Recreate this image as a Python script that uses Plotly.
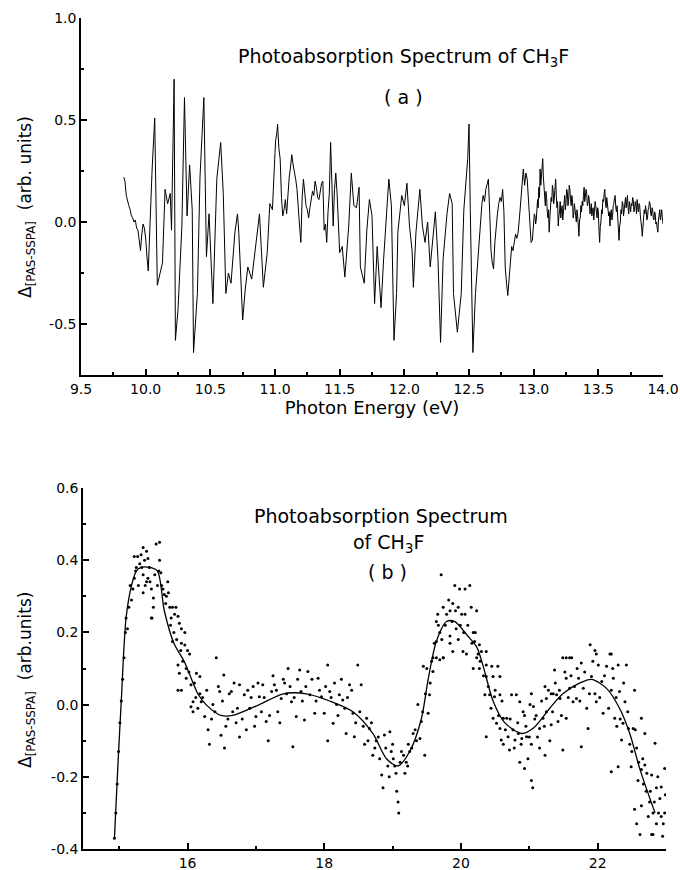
import plotly.graph_objects as go

# ---------------- Panel (a): photoabsorption spectrum 9.8 - 13 eV (main readings) ----------------
energy_a = [
    9.83, 9.85, 9.87, 9.89, 9.91, 9.94, 9.96, 9.99, 10.02, 10.05, 10.07, 10.075, 10.09, 10.13, 10.15,
    10.17, 10.19, 10.20, 10.21, 10.22, 10.23, 10.25, 10.28, 10.29, 10.30, 10.32, 10.34, 10.36, 10.37,
    10.40, 10.42, 10.45, 10.47, 10.49, 10.51, 10.52, 10.55, 10.58, 10.60, 10.62, 10.64, 10.66, 10.69,
    10.71, 10.72, 10.75, 10.77, 10.79, 10.82, 10.85, 10.88, 10.91, 10.94, 10.96, 10.98, 11.00, 11.02,
    11.04, 11.06, 11.08, 11.09, 11.11, 11.13, 11.16, 11.17, 11.20, 11.22, 11.24, 11.26, 11.28, 11.31,
    11.34, 11.37, 11.38, 11.40, 11.42, 11.43, 11.45, 11.47, 11.48, 11.50, 11.52, 11.54, 11.57, 11.59,
    11.61, 11.63, 11.65, 11.66, 11.69, 11.71, 11.73, 11.75, 11.77, 11.79, 11.82, 11.84, 11.88, 11.90,
    11.92, 11.94, 11.95, 11.98, 12.00, 12.02, 12.04, 12.06, 12.07, 12.09, 12.12, 12.14, 12.16, 12.18,
    12.20, 12.22, 12.24, 12.26, 12.28, 12.30, 12.33, 12.35, 12.37, 12.38, 12.41, 12.44, 12.46, 12.49,
    12.50, 12.51, 12.53, 12.55, 12.57, 12.60, 12.63, 12.65, 12.67, 12.69, 12.71, 12.73, 12.76, 12.78,
    12.80, 12.82, 12.85, 12.88, 12.91, 12.92, 12.95, 12.98, 12.99,
]
delta_a = [
    0.22, 0.13, 0.08, 0.03, 0.00, -0.04, -0.14, -0.03, -0.24, 0.26, 0.51, 0.30, -0.31, -0.20, 0.16,
    0.09, 0.14, -0.04, 0.35, 0.70, -0.58, -0.43, -0.02, 0.39, 0.61, 0.03, 0.28, 0.06, -0.64,
    -0.35, 0.22, 0.61, -0.17, 0.04, -0.28, -0.40, 0.21, 0.39, 0.14, -0.35, -0.25, -0.30, -0.05,
    0.04, -0.05, -0.48, -0.33, -0.22, -0.28, -0.12, 0.04, -0.32, -0.15, 0.09, 0.06, 0.34, 0.48,
    0.31, 0.03, 0.11, 0.04, 0.22, 0.33, 0.21, 0.16, -0.10, 0.21, 0.08, 0.02, 0.11, 0.20,
    0.11, 0.20, -0.04, -0.10, 0.14, 0.39, -0.02, 0.24, 0.14, -0.15, -0.12, -0.27, -0.02, 0.24,
    0.08, 0.07, 0.17, -0.22, -0.30, -0.04, 0.11, 0.03, -0.40, -0.12, -0.42, -0.18, 0.21, 0.08,
    -0.58, -0.35, -0.05, 0.13, 0.08, 0.19, -0.02, -0.14, -0.32, -0.05, 0.16, -0.02, -0.10, 0.00,
    -0.22, -0.10, 0.05, -0.18, -0.59, -0.18, 0.04, 0.14, 0.09, -0.35, -0.54, -0.35, 0.06, 0.31,
    0.48, 0.06, -0.64, -0.35, -0.18, 0.09, 0.16, 0.21, -0.14, -0.23, -0.02, 0.09, 0.16, -0.22,
    -0.36, -0.18, -0.09, -0.05, 0.14, 0.26, 0.21, -0.10, -0.09,
]

# extra fine-structure readings (noise wiggles) in panel (a)
energy_a_fine = [
    9.84, 9.86, 9.88, 9.90, 9.92, 9.93, 9.95, 9.97, 9.98, 10.00, 10.01,
    11.005, 11.015, 11.03, 11.05, 11.07, 11.10, 11.12, 11.14, 11.15, 11.18, 11.19, 11.21, 11.23,
    11.25, 11.27, 11.29, 11.30, 11.32, 11.33, 11.35, 11.36, 11.39, 11.41, 11.44, 11.46, 11.49,
    12.58, 12.59, 12.61, 12.62, 12.64, 12.66, 12.68, 12.70, 12.72, 12.74, 12.75, 12.77, 12.79,
    12.81, 12.83, 12.84, 12.86, 12.87, 12.89, 12.90, 12.93, 12.94, 12.96, 12.97,
]
delta_a_fine = [
    0.20, 0.10, 0.06, 0.02, 0.01, -0.03, -0.08, -0.06, -0.01, -0.08, -0.17,
    0.40, 0.44, 0.36, 0.12, 0.06, 0.15, 0.27, 0.28, 0.25, 0.05, -0.02, 0.12, 0.14,
    0.06, 0.07, 0.15, 0.13, 0.17, 0.12, 0.15, 0.19, -0.01, 0.05, 0.18, 0.16, 0.02,
    -0.10, 0.02, 0.13, 0.10, 0.18, 0.05, -0.20, -0.10, 0.04, 0.12, 0.10, 0.05, -0.30,
    -0.28, -0.12, -0.14, -0.06, -0.08, 0.02, 0.10, 0.18, 0.24, 0.10, -0.02,
]

# noisy tail 13 - 14 eV
energy_a_tail = [
    13.000, 13.005, 13.010, 13.015, 13.020, 13.025, 13.030, 13.035, 13.040, 13.045, 13.050, 13.055,
    13.060, 13.065, 13.070, 13.075, 13.080, 13.085, 13.090, 13.095, 13.100, 13.105, 13.110, 13.115,
    13.120, 13.125, 13.130, 13.135, 13.140, 13.145, 13.150, 13.155, 13.160, 13.165, 13.170, 13.175,
    13.180, 13.185, 13.190, 13.195, 13.200, 13.205, 13.210, 13.215, 13.220, 13.225, 13.230, 13.235,
    13.240, 13.245, 13.250, 13.255, 13.260, 13.265, 13.270, 13.275, 13.280, 13.285, 13.290, 13.295,
    13.300, 13.305, 13.310, 13.315, 13.320, 13.325, 13.330, 13.335, 13.340, 13.345, 13.350, 13.355,
    13.360, 13.365, 13.370, 13.375, 13.380, 13.385, 13.390, 13.395, 13.400, 13.405, 13.410, 13.415,
    13.420, 13.425, 13.430, 13.435, 13.440, 13.445, 13.450, 13.455, 13.460, 13.465, 13.470, 13.475,
    13.480, 13.485, 13.490, 13.495, 13.500, 13.505, 13.510, 13.515, 13.520, 13.525, 13.530, 13.535,
    13.540, 13.545, 13.550, 13.555, 13.560, 13.565, 13.570, 13.575, 13.580, 13.585, 13.590, 13.595,
    13.600, 13.605, 13.610, 13.615, 13.620, 13.625, 13.630, 13.635, 13.640, 13.645, 13.650, 13.655,
    13.660, 13.665, 13.670, 13.675, 13.680, 13.685, 13.690, 13.695, 13.700, 13.705, 13.710, 13.715,
    13.720, 13.725, 13.730, 13.735, 13.740, 13.745, 13.750, 13.755, 13.760, 13.765, 13.770, 13.775,
    13.780, 13.785, 13.790, 13.795, 13.800, 13.805, 13.810, 13.815, 13.820, 13.825, 13.830, 13.835,
    13.840, 13.845, 13.850, 13.855, 13.860, 13.865, 13.870, 13.875, 13.880, 13.885, 13.890, 13.895,
    13.900, 13.905, 13.910, 13.915, 13.920, 13.925, 13.930, 13.935, 13.940, 13.945, 13.950, 13.955,
    13.960, 13.965, 13.970, 13.975, 13.980, 13.985, 13.990, 13.995, 14.000,
]
delta_a_tail = [
    -0.02, 0.04, 0.03, -0.01, 0.01, 0.08, 0.11, 0.07, 0.17, 0.12, 0.26, 0.18,
    0.22, 0.28, 0.31, 0.22, 0.18, 0.12, 0.08, 0.15, 0.12, 0.05, 0.02, 0.06,
    -0.05, 0.02, 0.06, 0.12, 0.10, 0.18, 0.16, 0.09, 0.12, 0.19, 0.21, 0.13,
    0.07, 0.10, -0.02, 0.03, 0.05, 0.10, 0.02, 0.06, 0.08, 0.01, 0.04, 0.10,
    0.13, 0.06, 0.09, 0.16, 0.15, 0.08, 0.10, 0.18, 0.16, 0.11, 0.08, 0.13,
    0.11, 0.02, 0.04, 0.09, 0.07, 0.03, 0.00, 0.06, 0.03, -0.02, -0.07, 0.01,
    0.02, 0.08, 0.05, 0.10, 0.08, 0.13, 0.17, 0.10, 0.12, 0.16, 0.14, 0.08,
    0.09, 0.13, 0.11, 0.04, 0.05, 0.09, 0.03, 0.06, 0.07, 0.01, 0.04, 0.10,
    0.08, 0.03, 0.02, 0.07, 0.05, -0.04, -0.10, -0.02, 0.00, 0.06, 0.04, 0.11,
    0.10, 0.14, 0.16, 0.10, 0.07, 0.12, 0.09, 0.04, 0.03, 0.05, -0.02, 0.04,
    0.06, 0.01, 0.03, 0.08, 0.09, 0.12, 0.13, 0.07, 0.05, 0.08, 0.02, -0.03,
    -0.09, -0.02, 0.00, 0.06, 0.04, 0.10, 0.09, 0.03, 0.06, 0.10, 0.12, 0.07,
    0.11, 0.13, 0.07, 0.04, 0.10, 0.08, 0.05, 0.09, 0.08, 0.12, 0.11, 0.05,
    0.06, 0.10, 0.09, 0.04, 0.11, 0.07, 0.05, 0.09, 0.08, 0.03, 0.01, -0.03,
    -0.07, 0.00, 0.02, 0.06, 0.04, 0.08, 0.06, 0.01, 0.02, 0.06, 0.07, 0.10,
    0.09, 0.04, 0.03, 0.07, 0.06, 0.02, 0.01, 0.05, 0.04, -0.01, 0.00, -0.03,
    -0.05, 0.01, 0.03, 0.06, 0.01, 0.04, 0.06, 0.02, -0.01,
]

# ---------------- Panel (b): 15 - 23 eV, measured points + fitted curve ----------------
energy_b_pts = [
    14.93, 14.95, 14.97, 14.99, 15.01, 15.03, 15.05, 15.07, 15.09, 15.10,
    15.12, 15.18, 15.20, 15.22, 15.25, 15.30, 15.32, 15.35, 15.40, 15.42, 15.42, 15.45, 15.47, 15.50,
    15.48, 15.50, 15.54, 15.59, 15.59, 15.61, 15.64, 15.66, 15.69, 15.71, 15.74, 15.78, 15.83, 15.81,
    15.86, 15.76, 15.88, 15.91, 15.96, 15.78, 15.91, 15.96, 16.00, 16.03, 16.42, 15.22, 15.27, 15.35,
    15.40, 15.47, 15.35,
    15.86, 15.88, 15.91, 15.98, 16.05, 16.08, 16.13, 16.18, 16.18, 16.20, 16.05, 16.08, 16.25, 16.30,
    16.32, 16.37, 16.47, 16.49, 16.53, 16.54, 16.59, 16.64, 16.66, 16.71, 16.76, 16.76, 16.83, 16.86,
    16.91, 16.96, 17.00, 17.05, 17.10, 17.15, 17.18, 17.23, 17.27, 17.32, 17.37, 17.42, 17.47, 17.52,
    17.54, 17.59, 17.64, 17.66, 17.71, 17.76, 17.79, 17.86, 17.91, 17.96, 18.00, 18.05, 18.08, 18.13,
    18.05, 18.18, 15.86,
    18.22, 18.27, 18.37, 18.42, 18.49, 18.54, 18.32, 18.44, 18.59, 18.62, 18.66, 18.71, 18.76, 18.81,
    18.84, 18.86, 18.88, 18.93, 18.96, 18.98, 19.00, 19.03, 19.06, 19.08, 19.09, 19.13, 19.18, 19.20,
    19.23, 19.25, 19.30, 19.35, 19.40, 19.47, 19.37, 19.42, 19.45, 19.50, 19.52, 19.54, 19.57, 19.59,
    19.64, 19.69, 19.74,
    19.71, 19.91, 19.98, 20.06, 20.13, 19.66, 19.74, 19.79, 19.84, 19.88, 19.96, 20.01, 20.06, 20.15,
    20.23, 19.64, 19.69, 19.64, 19.84, 19.93, 19.96, 19.84, 19.88, 20.03, 20.08, 20.18, 20.20, 20.27,
    20.30, 20.37, 20.25, 19.74, 19.59,
    20.18, 20.23, 20.27, 20.37, 20.45, 20.54, 20.37, 20.47, 20.57, 20.35, 20.42, 20.49, 20.57, 20.47,
    20.52, 20.62, 20.67, 20.74, 20.81, 20.37, 20.57, 20.59, 20.62, 20.69, 20.71, 20.76, 20.79, 20.84,
    20.89, 20.91, 20.96, 21.03, 20.86, 20.93, 20.98, 21.03, 21.05, 21.01, 21.06, 21.10, 21.15, 21.15,
    21.20, 21.23, 21.25, 21.30, 21.32, 21.25, 21.35, 21.40, 21.42, 21.45, 21.49, 21.54, 20.86, 20.93,
    21.03, 21.23, 21.32,
    21.54, 21.62, 21.37, 21.54, 21.59, 21.64, 21.69, 21.72, 21.76, 21.79, 21.84, 21.86, 21.76, 21.91,
    21.96, 21.98, 22.01, 22.06, 22.08, 22.13, 22.18, 22.20, 22.23, 22.25, 22.28, 22.30, 22.32, 22.35,
    22.37, 22.40, 22.42, 22.45, 22.47, 22.20, 22.30, 22.54, 22.52, 22.64, 22.69, 22.57, 22.49, 22.59,
    22.64, 22.66, 22.69, 22.79, 22.84, 22.98, 22.93, 22.71, 22.76, 22.86, 22.91, 22.54, 22.64, 22.81,
    22.89, 22.93, 22.98, 22.57, 22.74, 22.86, 22.62, 22.79, 22.81, 22.95,
    21.89, 21.96, 21.98, 22.20, 21.49, 21.59,
    15.14, 15.16, 15.24, 15.28, 15.33, 15.37, 15.38, 15.44, 15.52, 15.56, 15.58,
    15.62, 15.68, 15.72, 15.75, 15.80, 15.84, 15.90, 15.93, 15.98, 16.02, 16.10, 16.12, 16.15, 16.22,
    16.28, 16.35, 16.40, 16.45, 16.51, 16.56, 16.61, 16.68, 16.73, 16.80, 16.88, 16.93, 16.98, 17.03,
    17.08, 17.12, 17.20, 17.25, 17.30, 17.35, 17.40, 17.45, 17.50, 17.56, 17.61, 17.68, 17.73, 17.82,
    17.88, 17.93, 18.02, 18.10, 18.15, 18.20, 18.25, 18.30, 18.34, 18.40, 18.46, 18.52, 18.57, 18.64,
    18.69, 18.74, 18.79, 18.90, 18.95, 19.01, 19.05, 19.11, 19.16, 19.22, 19.28, 19.33, 19.44, 19.48,
    19.55, 19.61, 19.67, 19.72, 19.77, 19.82, 19.87, 19.92, 19.99, 20.04, 20.10, 20.16, 20.21, 20.28,
    20.33, 20.40, 20.44, 20.50, 20.55, 20.60, 20.65, 20.72, 20.78, 20.83, 20.88, 20.95, 21.00, 21.08,
    21.12, 21.18, 21.22, 21.28, 21.34, 21.38, 21.44, 21.47, 21.52, 21.57, 21.61, 21.66, 21.70, 21.74,
    21.81, 21.88, 21.93, 22.03, 22.10, 22.16, 22.22, 22.27, 22.33, 22.38, 22.44, 22.50, 22.55, 22.60,
    22.67, 22.72, 22.77, 22.83, 22.88, 22.96, 22.99,
]
delta_b_pts = [
    -0.37, -0.30, -0.22, -0.13, -0.05, 0.01, 0.07, 0.13, 0.20, 0.24,
    0.21, 0.29, 0.32, 0.35, 0.38, 0.39, 0.415, 0.435, 0.425, 0.405, 0.35, 0.34, 0.32, 0.295,
    0.24, 0.27, 0.445, 0.45, 0.40, 0.365, 0.32, 0.305, 0.30, 0.34, 0.27, 0.27, 0.27, 0.25,
    0.245, 0.24, 0.225, 0.21, 0.20, 0.175, 0.17, 0.165, 0.15, 0.14, 0.13, 0.41, 0.41, 0.36,
    0.34, 0.24, 0.31,
    0.11, 0.087, 0.04, 0.073, 0.055, 0.008, 0.087, 0.078, 0.03, 0.008, -0.006, -0.02, -0.033, -0.07,
    -0.11, 0.00, 0.036, -0.085, 0.082, -0.12, -0.04, 0.036, -0.02, -0.05, 0.055, -0.09, 0.027, -0.07,
    -0.01, 0.05, -0.033, 0.022, 0.055, -0.047, -0.10, 0.036, 0.055, -0.02, 0.017, 0.06, 0.10, 0.008,
    -0.117, -0.033, 0.096, 0.036, -0.043, 0.092, 0.027, -0.024, 0.073, 0.022, -0.024, 0.11, 0.036, -0.052,
    -0.10, 0.00, 0.04,
    0.027, 0.013, 0.055, -0.024, 0.11, 0.055, -0.08, -0.089, -0.11, -0.038, -0.066, -0.14, -0.10, -0.15,
    -0.195, -0.23, -0.084, -0.17, -0.075, -0.13, -0.11, -0.17, -0.24, -0.27, -0.30, -0.13, -0.19, -0.16,
    -0.11, -0.13, -0.08, -0.10, -0.094, -0.14, 0.00, -0.047, 0.106, 0.10, -0.024, 0.027, 0.12, 0.092,
    0.13, 0.124, 0.13,
    0.36, 0.33, 0.32, 0.32, 0.33, 0.25, 0.27, 0.25, 0.26, 0.28, 0.27, 0.25, 0.25, 0.27,
    0.26, 0.23, 0.20, 0.175, 0.19, 0.21, 0.18, 0.17, 0.147, 0.147, 0.14, 0.20, 0.175, 0.166,
    0.147, 0.147, 0.14, 0.13, 0.13,
    0.10, 0.13, 0.10, 0.11, 0.106, 0.106, 0.078, 0.078, 0.078, 0.027, 0.027, 0.022, 0.027, -0.038,
    -0.052, -0.038, -0.038, 0.027, 0.027, -0.089, -0.066, -0.098, -0.11, -0.089, -0.126, -0.07, -0.098, -0.08,
    -0.094, -0.02, -0.089, -0.11, -0.16, -0.177, -0.15, -0.21, -0.23, 0.00, -0.005, -0.03, -0.066, -0.12,
    -0.038, -0.14, -0.02, -0.10, -0.056, 0.017, 0.03, 0.027, -0.047, 0.017, -0.126, -0.038, 0.008, -0.03,
    0.03, 0.05, 0.03,
    0.13, 0.13, 0.096, 0.073, 0.045, 0.008, 0.017, 0.073, 0.115, 0.045, -0.01, -0.066, -0.117, 0.078,
    0.03, 0.008, 0.11, 0.064, -0.024, 0.106, 0.14, 0.04, 0.073, -0.038, -0.06, 0.11, 0.036, -0.098,
    -0.052, 0.008, 0.11, -0.066, -0.11, -0.186, -0.172, 0.04, -0.066, -0.038, -0.08, -0.12, -0.172, -0.21,
    -0.18, -0.15, -0.167, -0.195, -0.107, -0.177, -0.228, -0.24, -0.27, -0.23, -0.26, -0.29, -0.28, -0.30,
    -0.30, -0.31, -0.30, -0.33, -0.31, -0.33, -0.36, -0.36, -0.36, -0.365,
    0.166, 0.15, 0.14, 0.14, 0.13, 0.13,
    0.27, 0.33, 0.37, 0.33, 0.38, 0.40, 0.33, 0.38, 0.36, 0.33, 0.37,
    0.33, 0.28, 0.31, 0.22, 0.20, 0.18, 0.15, 0.12, 0.10, 0.09, 0.06, 0.02, -0.01, 0.02,
    0.04, -0.04, -0.02, 0.05, 0.01, -0.06, 0.03, 0.06, -0.01, -0.04, 0.04, 0.02, -0.06, 0.06,
    -0.02, 0.02, -0.03, 0.08, 0.04, -0.05, 0.07, 0.03, 0.05, 0.02, 0.07, 0.01, 0.05, 0.07,
    0.01, 0.04, 0.05, 0.02, 0.06, -0.03, 0.07, -0.01, 0.02, 0.04, -0.05, -0.02, -0.06, -0.10,
    -0.05, -0.12, -0.09, -0.12, -0.20, -0.15, -0.19, -0.16, -0.14, -0.17, -0.12, -0.07, -0.02, 0.03,
    0.06, 0.17, 0.22, 0.18, 0.22, 0.29, 0.23, 0.26, 0.22, 0.20, 0.22, 0.17, 0.20, 0.12,
    0.08, 0.05, -0.01, 0.04, -0.03, 0.01, -0.07, -0.04, -0.12, -0.05, -0.11, -0.06, -0.09, -0.04,
    -0.09, 0.01, -0.06, 0.04, -0.02, 0.06, 0.04, -0.03, 0.09, 0.02, 0.08, 0.05, 0.10, 0.01,
    0.09, 0.03, 0.12, 0.02, 0.08, -0.01, 0.10, 0.02, -0.04, 0.06, -0.02, -0.13, -0.07, -0.16,
    -0.22, -0.19, -0.24, -0.27, -0.20, -0.33, -0.25,
]

energy_b_fit = [
    14.93, 14.98, 15.03, 15.10, 15.18, 15.25, 15.32, 15.45, 15.56, 15.66, 15.80, 15.95, 16.15, 16.27,
    16.49, 16.66, 17.05, 17.40, 17.74, 18.08, 18.42, 18.71, 18.91, 19.08, 19.25, 19.42, 19.52, 19.64,
    19.79, 19.91, 20.10, 20.23, 20.32, 20.47, 20.64, 20.89, 21.06, 21.30, 21.49, 21.74, 21.91, 22.13,
    22.32, 22.47, 22.62, 22.84,
]
delta_b_fit = [
    -0.37, -0.17, 0.01, 0.24, 0.33, 0.37, 0.38, 0.38, 0.37, 0.26, 0.17, 0.12, 0.03, 0.00,
    -0.03, -0.03, 0.00, 0.03, 0.03, 0.01, -0.02, -0.08, -0.15, -0.17, -0.13, -0.04, 0.07, 0.175,
    0.23, 0.23, 0.19, 0.16, 0.11, 0.01, -0.05, -0.08, -0.065, -0.01, 0.03, 0.06, 0.07, 0.045,
    -0.01, -0.08, -0.18, -0.30,
]

# tick labels
xticks_a = [9.5, 10.0, 10.5, 11.0, 11.5, 12.0, 12.5, 13.0, 13.5, 14.0]
xticktext_a = ["9.5", "10.0", "10.5", "11.0", "11.5", "12.0", "12.5", "13.0", "13.5", "14.0"]
yticks_a = [-0.5, 0.0, 0.5, 1.0]
yticktext_a = ["-0.5", "0.0", "0.5", "1.0"]
xticks_b = [16, 18, 20, 22]
xticktext_b = ["16", "18", "20", "22"]
yticks_b = [-0.4, -0.2, 0.0, 0.2, 0.4, 0.6]
yticktext_b = ["-0.4", "-0.2", "0.0", "0.2", "0.4", "0.6"]

# merge the panel-(a) readings into one energy-ordered spectrum
spec_a = sorted(zip(energy_a + energy_a_fine + energy_a_tail,
                    delta_a + delta_a_fine + delta_a_tail))
spec_a_x = [p[0] for p in spec_a]
spec_a_y = [p[1] for p in spec_a]

FONT = "DejaVu Sans"
W, H = 680, 870

fig = go.Figure()
fig.add_trace(go.Scatter(x=spec_a_x, y=spec_a_y, mode="lines",
                         line=dict(color="black", width=1), xaxis="x", yaxis="y",
                         showlegend=False, hoverinfo="skip"))
fig.add_trace(go.Scatter(x=energy_b_pts, y=delta_b_pts, mode="markers",
                         marker=dict(color="black", size=3), xaxis="x2", yaxis="y2",
                         showlegend=False))
fig.add_trace(go.Scatter(x=energy_b_fit, y=delta_b_fit, mode="lines",
                         line=dict(color="black", width=1.3, shape="spline", smoothing=0.8),
                         xaxis="x2", yaxis="y2", showlegend=False))

axis_common = dict(showline=True, linecolor="black", linewidth=1.5, showgrid=False,
                   zeroline=False, ticks="inside", ticklen=6, tickwidth=1.5, tickcolor="black",
                   tickfont=dict(family=FONT, size=14, color="black"), mirror=False,
                   automargin=False)

fig.update_layout(
    width=W, height=H, margin=dict(l=0, r=0, t=0, b=0, pad=0, autoexpand=False),
    paper_bgcolor="white", plot_bgcolor="white", showlegend=False,
    xaxis=dict(domain=[81 / W, 663 / W], anchor="y", range=[9.5, 14.0],
               tickvals=xticks_a, ticktext=xticktext_a,
               minor=dict(dtick=0.25, tick0=9.5, ticks="inside", ticklen=3, tickcolor="black"),
               title=dict(text="Photon Energy (eV)", font=dict(family=FONT, size=18, color="black"),
                          standoff=2),
               **axis_common),
    yaxis=dict(domain=[1 - 375 / H, 1 - 18 / H], anchor="x", range=[-0.75, 1.0],
               tickvals=yticks_a, ticktext=yticktext_a,
               minor=dict(dtick=0.25, tick0=0, ticks="inside", ticklen=3, tickcolor="black"),
               **axis_common),
    xaxis2=dict(domain=[83 / W, 666 / W], anchor="y2", range=[14.47, 23.0],
                tickvals=xticks_b, ticktext=xticktext_b,
                minor=dict(dtick=1, tick0=15, ticks="inside", ticklen=3, tickcolor="black"),
                **axis_common),
    yaxis2=dict(domain=[1 - 849 / H, 1 - 488 / H], anchor="x2", range=[-0.4, 0.6],
                tickvals=yticks_b, ticktext=yticktext_b,
                minor=dict(dtick=0.1, tick0=0, ticks="inside", ticklen=3, tickcolor="black"),
                **axis_common),
)

ann_font = dict(family=FONT, size=19, color="black")
ylab_font = dict(family=FONT, size=17, color="black")
annotations = [
    dict(text="Photoabsorption Spectrum of CH<sub>3</sub>F", x=403 / W, y=1 - 58 / H,
         xref="paper", yref="paper", showarrow=False, font=ann_font, xanchor="center", yanchor="middle"),
    dict(text="( a )", x=403 / W, y=1 - 97 / H, xref="paper", yref="paper", showarrow=False,
         font=ann_font, xanchor="center", yanchor="middle"),
    dict(text="Photoabsorption Spectrum", x=381 / W, y=1 - 516 / H, xref="paper", yref="paper",
         showarrow=False, font=ann_font, xanchor="center", yanchor="middle"),
    dict(text="of CH<sub>3</sub>F", x=388 / W, y=1 - 543 / H, xref="paper", yref="paper",
         showarrow=False, font=ann_font, xanchor="center", yanchor="middle"),
    dict(text="( b )", x=387 / W, y=1 - 572 / H, xref="paper", yref="paper", showarrow=False,
         font=ann_font, xanchor="center", yanchor="middle"),
    dict(text="Δ<sub>[PAS-SSPA]</sub>  (arb. units)", x=26 / W, y=1 - 207 / H, xref="paper",
         yref="paper", showarrow=False, font=ylab_font, textangle=-90,
         xanchor="center", yanchor="middle"),
    dict(text="Δ<sub>[PAS-SSPA]</sub>  (arb.units)", x=26 / W, y=1 - 680 / H, xref="paper",
         yref="paper", showarrow=False, font=ylab_font, textangle=-90,
         xanchor="center", yanchor="middle"),
]
fig.update_layout(annotations=annotations)

fig.write_html("out.html")
